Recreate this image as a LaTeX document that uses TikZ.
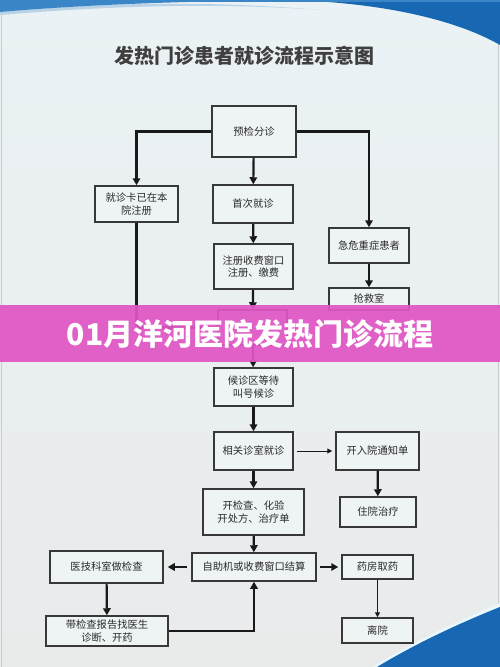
\documentclass[tikz,border=0pt]{standalone}
\usepackage{fontspec}
\setmainfont{Noto Sans CJK SC}
\usetikzlibrary{arrows.meta}
\definecolor{bgtop}{HTML}{EAF2F5}
\definecolor{bgbot}{HTML}{E9EBEB}
\definecolor{boxfill}{HTML}{EEF3F4}
\definecolor{boxline}{HTML}{383838}
\definecolor{txt}{HTML}{2A2A2A}
\definecolor{blueD}{HTML}{1767B2}
\definecolor{blueM}{HTML}{3B86C6}
\definecolor{blueL}{HTML}{B9D2E6}
\definecolor{banner}{HTML}{E056C4}
\tikzset{
  flowbox/.style={draw=boxline, line width=1.5pt, fill=boxfill, text=txt, align=center,
    font=\fontsize{10.3}{12.5}\selectfont, inner sep=0pt},
  conn/.style={draw=black!90, line width=2.2pt, -{Triangle[length=7pt,width=7.5pt]}},
  thinconn/.style={draw=black!90, line width=1pt, -{Triangle[length=5pt,width=5pt]}},
  plain/.style={draw=black!90, line width=2.2pt},
}
\newcommand{\flowbx}[6]{% name, left, top, right, bottom, text
  \node[flowbox, minimum width=#4pt-#2pt, minimum height=#5pt-#3pt] (#1) at ({(#2+#4)/2},{(#3+#5)/2}) {#6};}
\begin{document}
\begin{tikzpicture}[x=1pt,y=-1pt]
\useasboundingbox (0,0) rectangle (500,667);
% background
\shade[top color=bgtop, bottom color=bgbot] (0,0) rectangle (500,667);
\draw[black!20, line width=1pt] (1.5,0) -- (1.5,667);
\draw[black!20, line width=1pt] (498.5,0) -- (498.5,667);
% top decoration
\fill[blueL] (0,12) .. controls (100,3) and (200,0) .. (320,10) .. controls (220,3) and (120,5) .. (0,15) -- cycle;
\fill[blueM] (0,0) -- (0,12) .. controls (80,5) and (180,1) .. (300,0) -- cycle;
\fill[blueD] (290,0) .. controls (390,3) and (460,22) .. (500,45) -- (500,0) -- cycle;
\fill[blueM] (0,0) rectangle (500,2);
% bottom-right decoration
\fill[white!70!cyan!30] (372,667) .. controls (420,638) and (465,618) .. (500,603) -- (500,607) .. controls (465,621) and (420,641) .. (377,667) -- cycle;
\fill[blueD] (377,667) .. controls (420,641) and (465,621) .. (500,607) -- (500,667) -- cycle;
% title
\node[text=txt!90!white, font=\fontsize{20}{22}\selectfont\bfseries] (title) at (244,56) {发热门诊患者就诊流程示意图};
% boxes
\flowbx{A}{212}{106}{296}{157}{预检分诊}
\flowbx{B}{95}{186}{178}{222}{就诊卡已在本\\院注册}
\flowbx{C}{213}{185}{293}{223}{首次就诊}
\flowbx{D}{214}{244}{293}{289}{注册收费窗口\\注册、缴费}
\flowbx{E}{329}{228}{409}{263}{急危重症患者}
\flowbx{F}{329}{288}{409}{310}{抢救室}
\flowbx{H}{218}{310}{287}{345}{}
\flowbx{G}{214}{368}{293}{406}{候诊区等待\\叫号候诊}
\flowbx{I}{214}{432}{293}{470}{相关诊室就诊}
\flowbx{J}{336}{432}{419}{470}{开入院通知单}
\flowbx{K}{340}{497}{416}{527}{住院治疗}
\flowbx{L}{203}{489}{304}{535}{开检查、化验\\开处方、治疗单}
\flowbx{M}{192}{553}{316}{581}{自助机或收费窗口结算}
\flowbx{N}{50}{551}{163}{583}{医技科室做检查}
\flowbx{O}{46}{616}{168}{646}{带检查报告找医生\\诊断、开药}
\flowbx{P}{342}{555}{413}{579}{药房取药}
\flowbx{Q}{342}{618}{413}{643}{离院}
% connectors
\draw[conn] (A.west) -| (B.north);
\draw[conn] (A.east) -| (E.north);
\draw[conn] (A) -- (C);
\draw[conn] (C) -- (D);
\draw[conn] (E) -- (F);
\draw[conn] (D) -- (H);
\draw[plain] (B.south) |- (H.west);
\draw[conn] (H) -- (G);
\draw[conn] (G) -- (I);
\draw[thinconn, shorten <=3pt, shorten >=3pt] (I) -- (J);
\draw[conn] (J) -- (K);
\draw[conn] (I) -- (L);
\draw[conn] (L) -- (M);
\draw[conn, shorten <=4pt, shorten >=4pt] (M) -- (N);
\draw[conn, shorten <=3pt, shorten >=3pt] (M) -- (P);
\draw[conn] (N) -- (O);
\draw[conn] (O.east) -| (M.south);
\draw[thinconn, line width=1.4pt] (P) -- (Q);
% banner
\fill[banner, opacity=0.93] (0,305) rectangle (500,362);
\node[text=white, font=\fontsize{30}{32}\selectfont\bfseries] (bannertext) at (250,334) {01月洋河医院发热门诊流程};
\end{tikzpicture}
\end{document}
